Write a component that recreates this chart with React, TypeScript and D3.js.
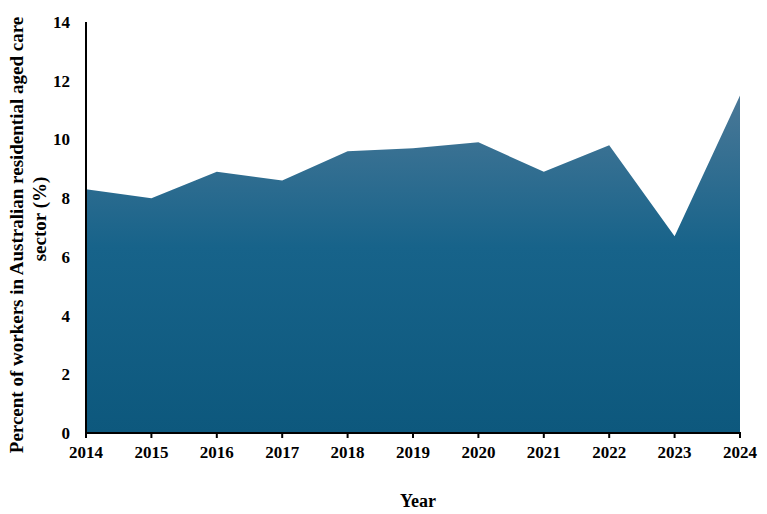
import * as d3 from 'd3';

const years = [2014, 2015, 2016, 2017, 2018, 2019, 2020, 2021, 2022, 2023, 2024];
const percents = [8.3, 8.0, 8.9, 8.6, 9.6, 9.7, 9.9, 8.9, 9.8, 6.7, 11.5];
const yTicks = [0, 2, 4, 6, 8, 10, 12, 14];

const W = 767;
const H = 514;
const margin = { top: 22, right: 27, bottom: 81, left: 86 };
const FONT = '"Liberation Serif", "Times New Roman", serif';

export default function App() {
  const x = d3.scaleLinear().domain([2014, 2024]).range([margin.left, W - margin.right]);
  const y = d3.scaleLinear().domain([0, 14]).range([H - margin.bottom, margin.top]);

  const data = years.map((yr, i) => ({ yr, v: percents[i] }));
  const area = d3.area<{ yr: number; v: number }>()
    .x(d => x(d.yr))
    .y0(y(0))
    .y1(d => y(d.v));

  const x0 = x(2014);
  const x1 = x(2024);
  const yBase = y(0);

  return (
    <svg width={W} height={H} style={{ position: 'absolute', left: 0, top: 0, background: '#fff' }} fontFamily={FONT}>
      <defs>
        <linearGradient id="fill" x1="0" y1="0" x2="0" y2="1">
          <stop offset="0%" stopColor="#4a7897" />
          <stop offset="45%" stopColor="#17638a" />
          <stop offset="100%" stopColor="#0d587d" />
        </linearGradient>
      </defs>

      <path d={area(data) ?? ''} fill="url(#fill)" />

      {/* axes */}
      <line x1={x0} x2={x0} y1={y(14)} y2={yBase} stroke="#000" strokeWidth={2} />
      <line x1={x0 - 1} x2={x1 + 1} y1={yBase} y2={yBase} stroke="#000" strokeWidth={2} />

      {years.map(yr => (
        <g key={yr}>
          <line x1={x(yr)} x2={x(yr)} y1={yBase} y2={yBase + 5} stroke="#000" strokeWidth={2} />
          <text x={x(yr)} y={yBase + 25} textAnchor="middle" fontSize={17} fontWeight="bold">{yr}</text>
        </g>
      ))}

      {yTicks.map(t => (
        <text key={t} x={x0 - 16} y={y(t)} dy="0.35em" textAnchor="end" fontSize={17} fontWeight="bold">{t}</text>
      ))}

      <text x={418} y={507} textAnchor="middle" fontSize={18} fontWeight="bold">Year</text>

      <text transform="translate(23,235) rotate(-90)" textAnchor="middle" fontSize={19} fontWeight="bold">
        Percent of workers in Australian residential aged care
      </text>
      <text transform="translate(46,219) rotate(-90)" textAnchor="middle" fontSize={19} fontWeight="bold">
        sector (%)
      </text>
    </svg>
  );
}
